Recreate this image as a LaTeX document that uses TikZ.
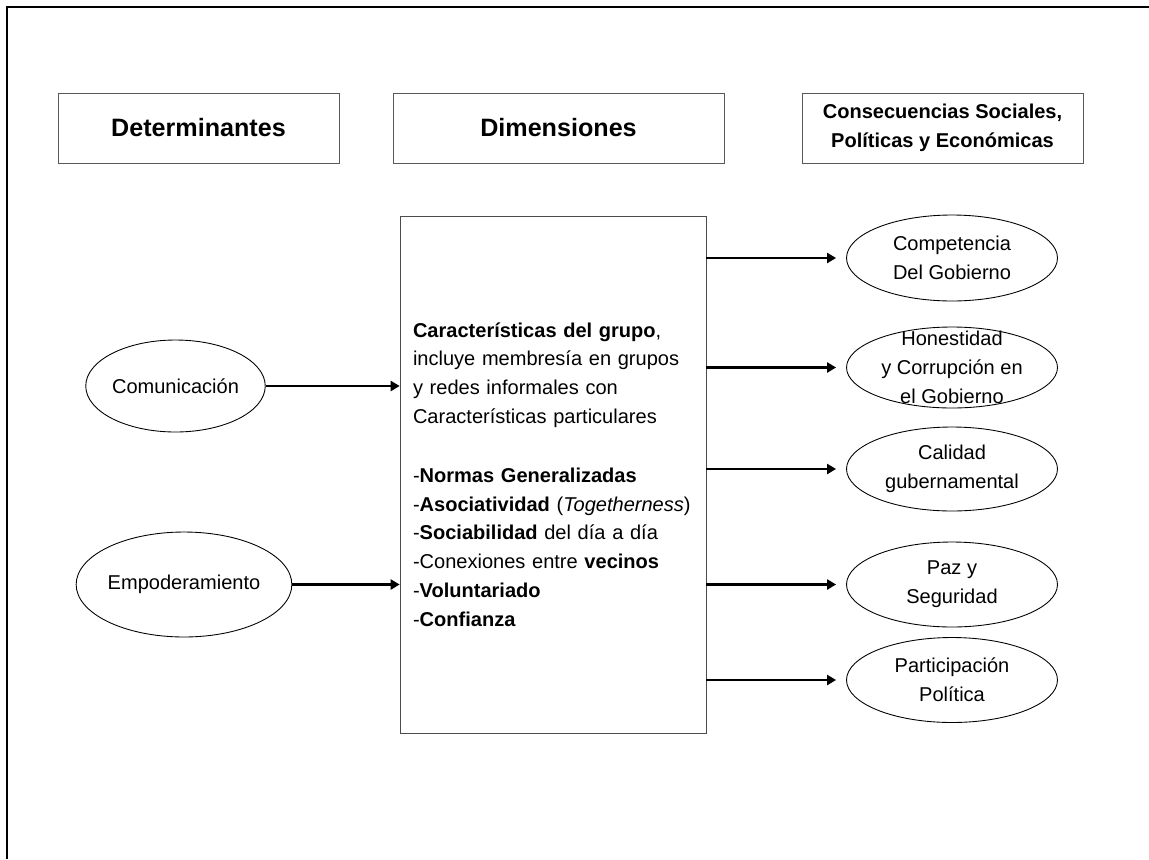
\documentclass[tikz,border=0pt]{standalone}
\usepackage{fontspec}
\setmainfont{Liberation Sans}
\usetikzlibrary{arrows.meta,positioning,shapes.geometric}
\tikzset{
  head/.style={draw=black!65,rectangle,minimum width=5.62cm,minimum height=1.4cm,align=center,font=\bfseries\fontsize{14.3}{17}\selectfont},
  oval/.style={draw,line width=0.5pt,ellipse,inner sep=0pt,align=center},
  outcome/.style={oval,minimum width=4.22cm,minimum height=1.7cm},
  link/.style={-{Triangle[length=1.8mm,width=2mm]},line width=1.4pt}
}

\begin{document}
\begin{tikzpicture}[x=0.02cm,y=-0.02cm,font=\fontsize{11.4}{16.4}\selectfont]
\useasboundingbox (0,0) rectangle (1149,859);
\draw[line width=1.2pt] (7,859) -- (7,7) -- (1149,7);

% column headers
\node[head] (det) at (198.5,128) {Determinantes};
\node[head, minimum width=6.62cm] (dim) at (558.5,128) {Dimensiones};
\node[head, font=\bfseries\fontsize{11.4}{16.4}\selectfont] (cons) at (942.5,128) {Consecuencias Sociales,\\Políticas y Económicas};

% central box
\node[draw=black!70, minimum height=10.34cm, text width=5.6cm, inner xsep=0.26cm, align=left] (carac) at (553,474.5) {%
\textbf{Características del grupo},\\
incluye membresía en grupos\\
y redes informales con\\
Características particulares\\[17pt]
-\textbf{Normas Generalizadas}\\
-\textbf{Asociatividad} (\textit{Togetherness})\\
-\textbf{Sociabilidad} del día a día\\
-Conexiones entre \textbf{vecinos}\\
-\textbf{Voluntariado}\\
-\textbf{Confianza}};

% determinants
\node[oval, minimum width=3.3cm, minimum height=1.84cm] (com) at (175.5,386) {Comunicación};
\node[oval, minimum width=3.64cm, minimum height=2.1cm] (emp) at (184,584.5) {Empoderamiento};

% consequences
\node[outcome, minimum height=1.72cm] (comp) at (952,258) {Competencia\\Del Gobierno};
\node[outcome, minimum height=1.62cm, label={[align=center]center:Honestidad\\y Corrupción en\\el Gobierno}] (hon) at (952,367.5) {};
\node[outcome, minimum height=1.68cm] (cal) at (952,469) {Calidad\\gubernamental};
\node[outcome] (paz) at (952,584.5) {Paz y\\Seguridad};
\node[outcome] (par) at (952,680) {Participación\\Política};

\draw[link] (com.east) -- (com.east -| carac.west);
\draw[link] (emp.east) -- (emp.east -| carac.west);
\foreach \o in {comp,hon,cal,paz,par}
  \draw[link] (\o.west -| carac.east) -- ([xshift=-0.2cm]\o.west);

\end{tikzpicture}
\end{document}
